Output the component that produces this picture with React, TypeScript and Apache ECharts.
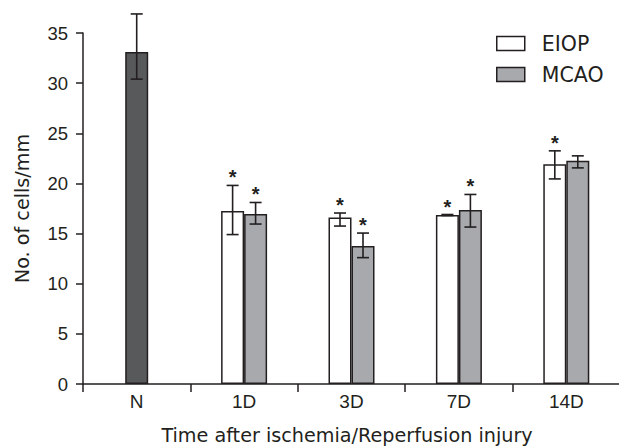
import React, { useEffect, useRef } from 'react';
import * as echarts from 'echarts';

const categories = ['N', '1D', '3D', '7D', '14D'];
const yTicks = [0, 5, 10, 15, 20, 25, 30, 35];

const normalMean = [33.1, null, null, null, null];
const normalLow = [30.4, null, null, null, null];
const normalHigh = [36.9, null, null, null, null];

const eiopMean = [null, 17.25, 16.6, 16.85, 21.9];
const eiopLow = [null, 14.9, 15.75, 16.8, 20.45];
const eiopHigh = [null, 19.8, 17.05, 16.9, 23.25];
const eiopStar = [false, true, true, true, true];

const mcaoMean = [null, 16.95, 13.75, 17.35, 22.25];
const mcaoLow = [null, 15.95, 12.6, 15.65, 21.55];
const mcaoHigh = [null, 18.1, 15.05, 18.9, 22.75];
const mcaoStar = [false, true, true, true, false];

const INK = '#231f20';
const FONT = '"Liberation Sans", Arial, sans-serif';
const WIDE = '"DejaVu Sans", sans-serif';
const BAR_W = 23;

function errSeries(name: string, offset: number, low: (number | null)[], high: (number | null)[], star: boolean[]) {
  const data: number[][] = [];
  categories.forEach((_, i) => {
    const lo = low[i];
    const hi = high[i];
    if (lo != null && hi != null) data.push([i, lo, hi, star[i] ? 1 : 0]);
  });
  return {
    name,
    type: 'custom',
    xAxisIndex: 0,
    yAxisIndex: 0,
    clip: false,
    z: 5,
    silent: true,
    encode: { x: 0, y: [1, 2] },
    renderItem: (_params: any, api: any) => {
      const i = api.value(0);
      const lo = api.coord([i, api.value(1)]);
      const hi = api.coord([i, api.value(2)]);
      const x = lo[0] + offset;
      const half = 6;
      const st = { stroke: INK, lineWidth: 1.6 };
      const children: any[] = [
        { type: 'line', shape: { x1: x, y1: lo[1], x2: x, y2: hi[1] }, style: st },
        { type: 'line', shape: { x1: x - half, y1: lo[1], x2: x + half, y2: lo[1] }, style: st },
        { type: 'line', shape: { x1: x - half, y1: hi[1], x2: x + half, y2: hi[1] }, style: st },
      ];
      if (api.value(3)) {
        children.push({
          type: 'text',
          style: {
            text: '*',
            x,
            y: hi[1] - 8,
            align: 'center',
            verticalAlign: 'middle',
            fill: INK,
            font: `bold 20px ${FONT}`,
          },
        });
      }
      return { type: 'group', children };
    },
    data,
  };
}

export default function App() {
  const ref = useRef<HTMLDivElement>(null);
  useEffect(() => {
    if (!ref.current) return;
    const chart = echarts.init(ref.current, undefined, { renderer: 'svg' });
    const barStyle = (color: string) => ({ color, borderColor: INK, borderWidth: 1.5 });
    chart.setOption({
      animation: false,
      backgroundColor: '#ffffff',
      textStyle: { fontFamily: FONT, color: INK },
      grid: { left: 83, top: 33, width: 537, height: 351, outerBoundsMode: 'none', containLabel: false },
      legend: {
        data: ['EIOP', 'MCAO'],
        orient: 'vertical',
        left: 496,
        top: 33,
        padding: 0,
        itemWidth: 28,
        itemHeight: 14,
        itemGap: 10,
        icon: 'rect',
        itemStyle: { borderColor: INK, borderWidth: 1.5 },
        textStyle: { fontSize: 20.5, lineHeight: 14, color: INK, fontFamily: WIDE, padding: [0, 0, 0, 12] },
      },
      xAxis: [
        {
          type: 'category',
          data: categories,
          boundaryGap: true,
          name: 'Time after ischemia/Reperfusion injury',
          nameLocation: 'middle',
          nameGap: 42,
          nameTextStyle: { fontSize: 19.2, color: INK, fontFamily: WIDE, padding: [0, 9, 0, 0] },
          axisLine: { show: true, lineStyle: { color: INK, width: 1.5 } },
          axisTick: { show: true, length: 8, inside: false, lineStyle: { color: INK, width: 1.5 } },
          axisLabel: { fontSize: 19, color: INK, margin: 8, fontFamily: FONT },
          splitLine: { show: false },
        },
        {
          type: 'category',
          data: categories,
          boundaryGap: true,
          show: false,
        },
      ],
      yAxis: {
        type: 'value',
        min: yTicks[0],
        max: yTicks[yTicks.length - 1],
        interval: 5,
        name: 'No. of cells/mm',
        nameLocation: 'middle',
        nameGap: 51,
        nameRotate: 90,
        nameTextStyle: { fontSize: 19.2, color: INK, fontFamily: WIDE },
        axisLine: { show: true, lineStyle: { color: INK, width: 1.5 } },
        axisTick: { show: true, length: 7, inside: false, lineStyle: { color: INK, width: 1.5 } },
        axisLabel: { fontSize: 18.5, color: INK, margin: 15, fontFamily: FONT },
        splitLine: { show: false },
      },
      series: [
        {
          name: 'N',
          type: 'bar',
          xAxisIndex: 1,
          barWidth: BAR_W,
          data: normalMean.map((v) => (v == null ? '-' : v)),
          itemStyle: barStyle('#58595b'),
        },
        {
          name: 'EIOP',
          type: 'bar',
          xAxisIndex: 0,
          barWidth: BAR_W,
          barGap: '0%',
          data: eiopMean.map((v) => (v == null ? '-' : v)),
          itemStyle: barStyle('#ffffff'),
        },
        {
          name: 'MCAO',
          type: 'bar',
          xAxisIndex: 0,
          barWidth: BAR_W,
          barGap: '0%',
          data: mcaoMean.map((v) => (v == null ? '-' : v)),
          itemStyle: barStyle('#a7a9ac'),
        },
        errSeries('errN', 0, normalLow, normalHigh, [false, false, false, false, false]),
        errSeries('errEIOP', -BAR_W / 2, eiopLow, eiopHigh, eiopStar),
        errSeries('errMCAO', BAR_W / 2, mcaoLow, mcaoHigh, mcaoStar),
      ],
    });
    return () => chart.dispose();
  }, []);
  return <div ref={ref} style={{ position: 'fixed', left: 0, top: 0, width: 619, height: 446 }} />;
}
